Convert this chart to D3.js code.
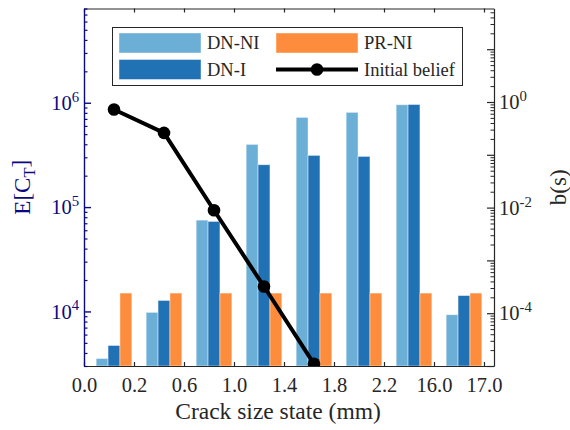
<!DOCTYPE html>
<html>
<head>
<meta charset="utf-8">
<script src="https://cdn.jsdelivr.net/npm/d3@7"></script>
<style>
  html, body { margin: 0; padding: 0; background: #fff; }
  svg { display: block; }
  text { font-family: "Liberation Serif", "Times New Roman", serif; }
</style>
</head>
<body>
<svg id="chart" width="570" height="430"></svg>
<script>
// ---- data ----
const tickLabels = ["0.0", "0.2", "0.6", "1.0", "1.4", "1.8", "2.2", "16.0", "17.0"];
const states = [1, 2, 3, 4, 5, 6, 7, 8];
const dnNI = [3540, 9800, 75000, 399000, 724000, 809000, 957000, 9300];
const dnI  = [4720, 12750, 72900, 254600, 313000, 306000, 962000, 14200];
const prNI = [15000, 15000, 15000, 15000, 15000, 15000, 15000, 15000];
const belief = [0.72, 0.26, 0.0089, 3.2e-4, 1.1e-5];
const seriesNames = ["DN-NI", "DN-I", "PR-NI"];
const colors = { "DN-NI": "#6baed6", "DN-I": "#2171b5", "PR-NI": "#fd8d3c" };

// ---- layout ----
const FONT = "'Liberation Serif', 'Times New Roman', serif";
const svg = d3.select("#chart").attr("font-family", FONT);
const L = 84, R = 494, T = 8.5, B = 366;
const navy = "#0a0a80";
const fontTick = 20.5;

const x = d3.scaleLinear().domain([0.4, 8.6]).range([L, R]);
const yL = d3.scaleLog().domain([3000, 8e6]).range([B, T]);
const yR = d3.scaleLog().domain([1e-5, 59]).range([B, T]);
const barW = 0.238; // in x units

svg.append("defs").append("clipPath").attr("id", "plotclip")
  .append("rect").attr("x", L).attr("y", T).attr("width", R - L).attr("height", B - T);

// ---- bars ----
const seriesData = [dnNI, dnI, prNI];
const barsG = svg.append("g").attr("clip-path", "url(#plotclip)");
seriesData.forEach((vals, si) => {
  barsG.selectAll(null).data(states).enter().append("rect")
    .attr("x", d => x(d + (si - 1.5) * barW))
    .attr("width", x(barW) - x(0))
    .attr("y", (d, i) => yL(vals[i]))
    .attr("height", (d, i) => B - yL(vals[i]))
    .attr("fill", colors[seriesNames[si]])
    .attr("stroke", "#ffffff")
    .attr("stroke-opacity", 0.55)
    .attr("stroke-width", 0.8);
});

// ---- line ----
const lineG = svg.append("g").attr("clip-path", "url(#plotclip)");
const lineData = belief.map((v, i) => ({ s: states[i], v }));
lineG.append("path").datum(lineData)
  .attr("fill", "none").attr("stroke", "#000").attr("stroke-width", 4)
  .attr("d", d3.line().x(d => x(d.s)).y(d => yR(d.v)));
lineG.selectAll("circle").data(lineData).enter().append("circle")
  .attr("cx", d => x(d.s)).attr("cy", d => yR(d.v)).attr("r", 6.3).attr("fill", "#000");

// ---- helper for superscript labels ----
function powLabel(sel) {
  sel.each(function(d) {
    const t = d3.select(this);
    t.text(null);
    const e = Math.round(Math.log10(d));
    t.append("tspan").text("10");
    t.append("tspan").attr("dy", "-0.55em").attr("font-size", "0.72em").text(String(e));
  });
}
function styleAxis(g) { g.attr("font-family", FONT); }

// ---- bottom axis ----
const xTicks = tickLabels.map((_, k) => 0.4 + k);
const xAxisG = svg.append("g").attr("transform", `translate(0,${B})`)
  .call(d3.axisBottom(x).tickValues(xTicks).tickSizeInner(-4).tickSizeOuter(0).tickPadding(11)
    .tickFormat((d, i) => tickLabels[i])).call(styleAxis);
xAxisG.select(".domain").attr("stroke", "#262626").attr("stroke-width", 1.2);
xAxisG.selectAll(".tick line").attr("stroke", "#262626").attr("stroke-width", 1.2);
xAxisG.selectAll(".tick text").attr("font-size", fontTick).attr("fill", "#262626");

// ---- top axis ----
const topG = svg.append("g").attr("transform", `translate(0,${T})`)
  .call(d3.axisTop(x).tickValues(xTicks).tickSizeInner(-4).tickSizeOuter(0).tickFormat(""));
topG.select(".domain").attr("stroke", "#262626").attr("stroke-width", 1.2);
topG.selectAll(".tick line").attr("stroke", "#262626").attr("stroke-width", 1.2);

// ---- left axis ----
const leftMajors = [1e4, 1e5, 1e6];
const leftMinors = [];
[1e3, 1e4, 1e5, 1e6].forEach(p => { for (let m = 2; m <= 9; m++) { const v = m * p; if (v >= 3000 && v <= 8e6) leftMinors.push(v); } });
const leftMinorG = svg.append("g").attr("transform", `translate(${L},0)`)
  .call(d3.axisLeft(yL).tickValues(leftMinors).tickSizeInner(-3.5).tickSizeOuter(0).tickFormat(""));
leftMinorG.select(".domain").remove();
leftMinorG.selectAll(".tick line").attr("stroke", navy).attr("stroke-width", 1.2);
const leftG = svg.append("g").attr("transform", `translate(${L},0)`)
  .call(d3.axisLeft(yL).tickValues(leftMajors).tickSizeInner(-7).tickSizeOuter(0).tickPadding(5))
  .call(styleAxis);
leftG.select(".domain").attr("stroke", navy).attr("stroke-width", 1.4);
leftG.selectAll(".tick line").attr("stroke", navy).attr("stroke-width", 1.4);
leftG.selectAll(".tick text").attr("font-size", fontTick).attr("fill", navy).attr("dy", "0.32em")
  .call(powLabel);

// ---- right axis ----
const rightMajors = [1e-5, 1e-4, 1e-3, 1e-2, 1e-1, 1e0, 1e1];
const rightLabeled = [1e-4, 1e-2, 1e0];
const rightMinors = [];
rightMajors.forEach(p => { for (let m = 2; m <= 9; m++) { const v = m * p; if (v <= 59) rightMinors.push(v); } });
const rightMinorG = svg.append("g").attr("transform", `translate(${R},0)`)
  .call(d3.axisRight(yR).tickValues(rightMinors).tickSizeInner(-3.5).tickSizeOuter(0).tickFormat(""));
rightMinorG.select(".domain").remove();
rightMinorG.selectAll(".tick line").attr("stroke", "#262626").attr("stroke-width", 1);
const rightMajorG = svg.append("g").attr("transform", `translate(${R},0)`)
  .call(d3.axisRight(yR).tickValues(rightMajors).tickSizeInner(-7).tickSizeOuter(0).tickFormat(""));
rightMajorG.select(".domain").attr("stroke", "#262626").attr("stroke-width", 1.2);
rightMajorG.selectAll(".tick line").attr("stroke", "#262626").attr("stroke-width", 1.2);
const rightLabG = svg.append("g").attr("transform", `translate(${R},0)`)
  .call(d3.axisRight(yR).tickValues(rightLabeled).tickSize(0).tickPadding(5))
  .call(styleAxis);
rightLabG.select(".domain").remove();
rightLabG.selectAll(".tick text").attr("font-size", fontTick).attr("fill", "#262626").attr("dy", "0.32em")
  .call(powLabel);

// ---- axis titles ----
const yTitle = svg.append("text")
  .attr("transform", `translate(30,${(T + B) / 2}) rotate(-90)`)
  .attr("text-anchor", "middle").attr("font-size", 23).attr("fill", navy);
yTitle.append("tspan").text("E[C");
yTitle.append("tspan").attr("dy", "0.3em").attr("font-size", "0.72em").text("T");
yTitle.append("tspan").attr("dy", "-0.3em").text("]");

svg.append("text")
  .attr("transform", `translate(566,${(T + B) / 2}) rotate(-90)`)
  .attr("text-anchor", "middle").attr("font-size", 23).attr("fill", "#262626")
  .text("b(s)");

svg.append("text")
  .attr("x", 278).attr("y", 419)
  .attr("text-anchor", "middle").attr("font-size", 23.5).attr("fill", "#262626")
  .text("Crack size state (mm)");

// ---- legend ----
const lg = svg.append("g");
lg.append("rect").attr("x", 112.5).attr("y", 27.5).attr("width", 350).attr("height", 58)
  .attr("fill", "#fff").attr("stroke", "#262626").attr("stroke-width", 1);
const legendItems = [
  { name: "DN-NI", type: "bar", col: 0, row: 0 },
  { name: "PR-NI", type: "bar", col: 1, row: 0 },
  { name: "DN-I", type: "bar", col: 0, row: 1 },
  { name: "Initial belief", type: "line", col: 1, row: 1 }
];
const colX = [119, 276], rowY = [43, 69.5], swW = 82, swH = 20;
legendItems.forEach(it => {
  const sx = colX[it.col], cy = rowY[it.row];
  if (it.type === "bar") {
    lg.append("rect").attr("x", sx).attr("y", cy - swH / 2).attr("width", swW).attr("height", swH)
      .attr("fill", colors[it.name]).attr("stroke", "#fff").attr("stroke-opacity", 0.55).attr("stroke-width", 0.8);
  } else {
    lg.append("line").attr("x1", sx).attr("x2", sx + swW).attr("y1", cy).attr("y2", cy)
      .attr("stroke", "#000").attr("stroke-width", 4);
    lg.append("circle").attr("cx", sx + swW / 2).attr("cy", cy).attr("r", 6.3).attr("fill", "#000");
  }
  lg.append("text").attr("x", sx + swW + 6).attr("y", cy).attr("dy", "0.35em")
    .attr("font-size", 18.5).attr("fill", "#262626").text(it.name);
});
</script>
</body>
</html>
